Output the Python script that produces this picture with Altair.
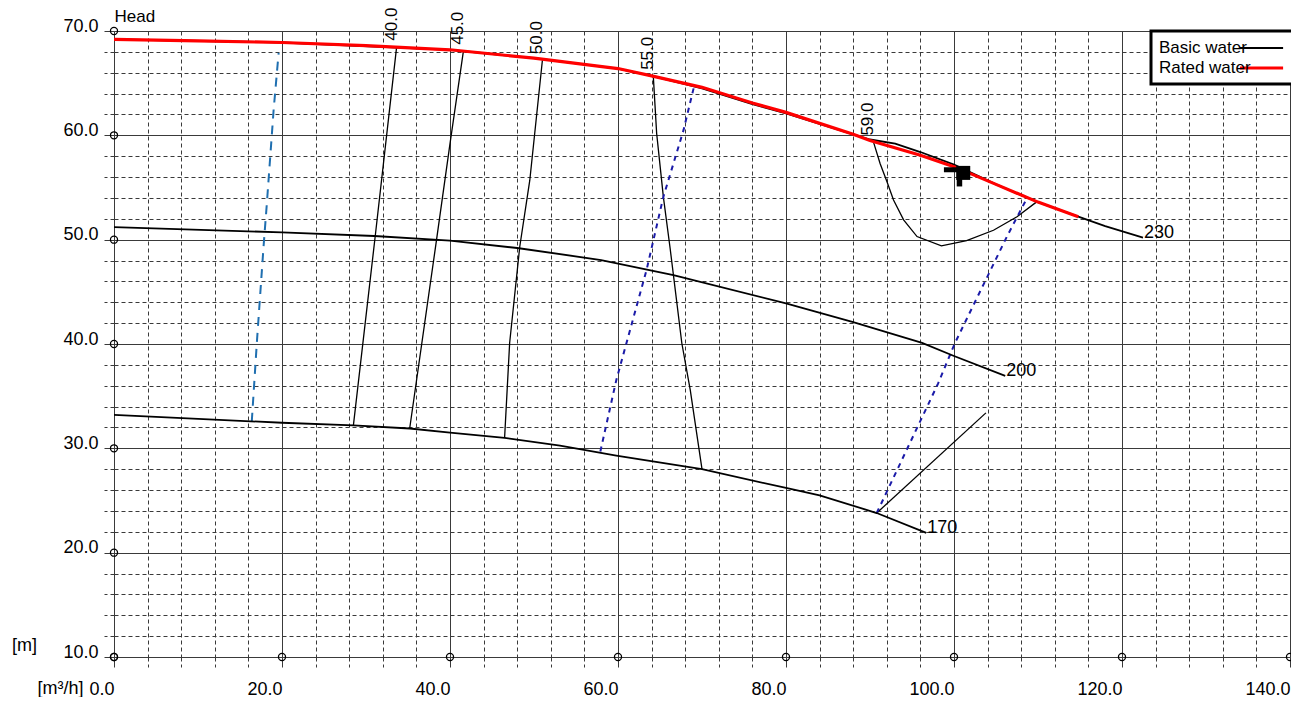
import altair as alt
import pandas as pd

FONT = "Liberation Sans"

# ---------------- data ----------------
# Head curves, Basic water, per impeller diameter
d230_x = [0, 20, 40, 50, 60, 64, 70, 76, 80, 88, 90, 93, 96, 100, 105, 110, 114.8, 118, 122.5]
d230_y = [69.2, 68.9, 68.2, 67.4, 66.4, 65.7, 64.5, 63.0, 62.1, 60.1, 59.6, 59.2, 58.4, 57.2, 55.3, 53.6, 52.2, 51.3, 50.2]
d200_x = [0, 20, 31, 40, 48, 58, 66.6, 80, 88, 96.2, 100, 106.1]
d200_y = [51.2, 50.7, 50.35, 49.9, 49.2, 48.05, 46.6, 43.9, 42.1, 40.1, 38.85, 36.95]
d170_x = [0, 20, 28.5, 35.2, 40, 46.5, 53.1, 59.8, 70, 80, 84, 90.8, 96.7]
d170_y = [33.2, 32.45, 32.2, 31.9, 31.5, 31.0, 30.25, 29.3, 28.0, 26.2, 25.5, 23.8, 21.9]
diam_labels = ["230", "200", "170"]

# Rated water head curve
rated_x = [0, 10, 20, 30, 40, 50, 60, 64, 70, 76, 80, 88, 90, 96, 100, 105, 110, 114.8]
rated_y = [69.2, 69.05, 68.9, 68.6, 68.2, 67.4, 66.4, 65.7, 64.6, 63.1, 62.2, 60.1, 59.5, 58.1, 57.0, 55.3, 53.6, 52.2]

# Iso-efficiency lines
eff40_x = [28.5, 31.1, 33.65]
eff40_y = [32.2, 50.35, 68.5]
eff45_x = [35.2, 38.4, 40.0, 41.6]
eff45_y = [31.9, 50.0, 59.2, 68.1]
eff50_x = [46.5, 47.1, 48.3, 49.5, 51.0]
eff50_y = [31.0, 40.1, 49.3, 55.7, 67.2]
eff55_x = [70.0, 68.6, 67.6, 66.6, 66.2, 65.4, 64.6, 64.2]
eff55_y = [28.0, 35.6, 40.07, 46.6, 49.2, 54.1, 60.2, 65.7]
eff59_x = [90.4, 91.2, 92.0, 92.8, 94.0, 95.6, 98.5, 101.5, 104.7, 107.5, 109.8]
eff59_y = [59.4, 57.3, 55.6, 53.8, 51.9, 50.3, 49.4, 49.9, 50.9, 52.2, 53.6]
eff_labels = ["40.0", "45.0", "50.0", "55.0", "59.0"]
seg_x = [90.8, 103.8]
seg_y = [23.8, 33.4]

# Dashed lines
blue_x = [16.4, 17.0, 17.8, 18.2, 19.0, 19.6]
blue_y = [32.55, 40.07, 49.3, 53.5, 62.4, 67.9]
navy1_x = [57.9, 59.8, 63.4, 65.4, 67.8, 69.0]
navy1_y = [29.7, 36.55, 47.1, 54.1, 60.5, 64.5]
navy2_x = [90.8, 98.1, 100.1, 106.3, 108.7]
navy2_y = [23.8, 36.2, 40.07, 50.3, 54.0]

# Operating point
op_x, op_y = 101.1, 56.4
hbar_x, hbar_x2, hbar_y = 98.8, 101.0, 56.7
vbar_x, vbar_y, vbar_y2 = 100.65, 56.7, 55.1

# Axis ticks
x_ticks = list(range(0, 141, 4))
y_ticks = list(range(10, 71, 2))
x_major = list(range(0, 141, 20))
y_major = list(range(10, 71, 10))

series_names = ["Basic water", "Rated water"]
unit_y_label = "[m]"

# ---------------- tables ----------------
def long_table(items, extra=None):
    rows = []
    for cid, xs, ys in items:
        for i, (a, b) in enumerate(zip(xs, ys)):
            r = {"id": cid, "i": i, "x": a, "y": b}
            if extra:
                r.update(extra)
            rows.append(r)
    return pd.DataFrame(rows)

basic_df = long_table([("230", d230_x, d230_y), ("200", d200_x, d200_y), ("170", d170_x, d170_y)],
                      {"series": series_names[0]})
rated_df = long_table([("rated", rated_x, rated_y)], {"series": series_names[1]})
eff_df = long_table([("40", eff40_x, eff40_y), ("45", eff45_x, eff45_y), ("50", eff50_x, eff50_y),
                     ("55", eff55_x, eff55_y), ("59", eff59_x, eff59_y), ("seg", seg_x, seg_y)])
blue_df = long_table([("b", blue_x, blue_y)])
navy_df = long_table([("n1", navy1_x, navy1_y), ("n2", navy2_x, navy2_y)])

eff_lab_df = pd.DataFrame({
    "x": [eff40_x[-1], eff45_x[-1], eff50_x[-1], eff55_x[-1], eff59_x[0]],
    "y": [eff40_y[-1], eff45_y[-1], eff50_y[-1], eff55_y[-1], eff59_y[0]],
    "t": eff_labels,
})
diam_lab_df = pd.DataFrame({
    "x": [d230_x[-1], d200_x[-1], d170_x[-1]],
    "y": [d230_y[-1], d200_y[-1], d170_y[-1]],
    "t": diam_labels,
})
circ_df = pd.DataFrame({
    "x": x_major + [0] * len(y_major),
    "y": [10] * len(x_major) + y_major,
})
unit_df = pd.DataFrame({"x": [x_major[0]], "y": [y_major[0]], "t": [unit_y_label]})
op_df = pd.DataFrame({"x": [op_x], "y": [op_y]})
hbar_df = pd.DataFrame({"x": [hbar_x], "x2": [hbar_x2], "y": [hbar_y]})
vbar_df = pd.DataFrame({"x": [vbar_x], "y": [vbar_y], "y2": [vbar_y2]})

# ---------------- scales / axes ----------------
xscale = alt.Scale(domain=[0, 140], nice=False, zero=False)
yscale = alt.Scale(domain=[10, 70], nice=False, zero=False)

def cond(test, a, b):
    return {"condition": {"test": test, "value": a}, "value": b}

XM = "datum.value % 20 === 0"
YM = "datum.value % 10 === 0"
GRID = "#3a3a3a"
DASH = [4, 3]
FS = 18

x_axis = alt.Axis(
    values=x_ticks, grid=True, gridColor=GRID, gridWidth=1, gridDash=cond(XM, [], DASH),
    tickSize=10, tickColor=GRID, tickWidth=1, tickDash=cond(XM, [], DASH),
    domainColor=GRID, domainWidth=1,
    labelExpr="datum.value % 20 === 0 ? format(datum.value, '.1f') : ''",
    labelAlign="right", labelBaseline="alphabetic", labelPadding=27,
    labelFlush=False, labelOverlap=False,
    labelFont=FONT, labelFontSize=FS, labelColor="black",
    title="[m³/h]", titleX=-31, titleY=36, titleAlign="right", titleBaseline="alphabetic",
    titleAngle=0, titleFont=FONT, titleFontSize=FS, titleFontWeight="normal", titleColor="black",
)
y_axis = alt.Axis(
    values=y_ticks, grid=True, gridColor=GRID, gridWidth=1, gridDash=cond(YM, [], DASH),
    tickSize=10, tickColor=GRID, tickWidth=1, tickDash=cond(YM, [], DASH),
    domainColor=GRID, domainWidth=1,
    labelExpr="datum.value % 10 === 0 ? format(datum.value, '.1f') : ''",
    labelAlign="right", labelBaseline="alphabetic", labelPadding=6,
    labelFlush=False, labelOverlap=False,
    labelFont=FONT, labelFontSize=FS, labelColor="black",
    title="Head", titleX=0, titleY=-10, titleAlign="left", titleBaseline="alphabetic",
    titleAngle=0, titleFont=FONT, titleFontSize=17, titleFontWeight="normal", titleColor="black",
)

# same axis definition in every layer so that the shared axes merge cleanly
X = alt.X("x:Q", scale=xscale, axis=x_axis)
Y = alt.Y("y:Q", scale=yscale, axis=y_axis)

legend = alt.Legend(
    title=None, orient="none", legendX=1037, legendY=0,
    symbolType="M-2.7,0H2.7", symbolSize=256, symbolOffset=92.5, labelOffset={"expr": "-112.5"},
    labelFont=FONT, labelFontSize=17, labelColor="black", labelLimit=300,
    padding=8, rowPadding=2, strokeColor="black", fillColor="white",
)
color = alt.Color("series:N", scale=alt.Scale(domain=series_names, range=["black", "red"]), legend=legend)
swidth = alt.StrokeWidth("series:N", scale=alt.Scale(domain=series_names, range=[1.8, 3.2]), legend=legend)

# ---------------- layers ----------------
circles = alt.Chart(circ_df).mark_point(shape="circle", size=50, filled=False, color="black",
                                         strokeWidth=1.3, opacity=1).encode(x=X, y=Y)

eff_lines = alt.Chart(eff_df).mark_line(color="black", strokeWidth=1.3).encode(
    x=X, y=Y, detail="id:N", order="i:Q")

blue_line = alt.Chart(blue_df).mark_line(color="#1f6fb0", strokeWidth=2, strokeDash=[9, 7]).encode(
    x=X, y=Y, order="i:Q")

navy_lines = alt.Chart(navy_df).mark_line(color="#1a1aa8", strokeWidth=2, strokeDash=[5, 5]).encode(
    x=X, y=Y, detail="id:N", order="i:Q")

basic = alt.Chart(basic_df).mark_line().encode(
    x=X, y=Y, detail="id:N", order="i:Q", color=color, strokeWidth=swidth)

rated = alt.Chart(rated_df).mark_line().encode(
    x=X, y=Y, order="i:Q", color=color, strokeWidth=swidth)

op_sq = alt.Chart(op_df).mark_square(size=196, color="black", opacity=1).encode(x=X, y=Y)
op_h = alt.Chart(hbar_df).mark_rule(color="black", strokeWidth=5).encode(
    x=X, x2="x2:Q", y=Y)
op_v = alt.Chart(vbar_df).mark_rule(color="black", strokeWidth=5.5).encode(
    x=X, y=Y, y2="y2:Q")

eff_text = alt.Chart(eff_lab_df).mark_text(angle=270, align="left", baseline="alphabetic", dx=6,
                                           font=FONT, fontSize=17, color="black").encode(
    x=X, y=Y, text="t:N")
diam_text = alt.Chart(diam_lab_df).mark_text(align="left", baseline="alphabetic", dx=1,
                                             font=FONT, fontSize=FS, color="black").encode(
    x=X, y=Y, text="t:N")
unit_text = alt.Chart(unit_df).mark_text(align="left", baseline="alphabetic", dx=-102, dy=-6,
                                         font=FONT, fontSize=FS, color="black").encode(
    x=X, y=Y, text="t:N")

chart = alt.layer(
    circles, eff_lines, blue_line, navy_lines, basic, rated, op_h, op_v, op_sq,
    eff_text, diam_text, unit_text
).properties(
    width=1176, height=626,
    autosize=alt.AutoSizeParams(type="none"),
    padding={"left": 106, "top": 23, "right": 1, "bottom": 40},
    background="white",
).configure_view(strokeWidth=0).configure_legend(strokeWidth=3)

chart.save("out.html", embed_options={"renderer": "svg", "actions": False})
